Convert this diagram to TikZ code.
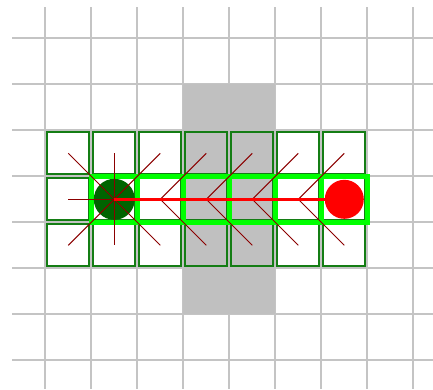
\documentclass[tikz,border=0pt]{standalone}
\usepackage{tikz}
\definecolor{gridgray}{RGB}{196,196,196}
\definecolor{wallgray}{RGB}{192,192,192}
\definecolor{opengreen}{RGB}{20,125,20}
\definecolor{pathgreen}{RGB}{0,255,0}
\definecolor{startgreen}{RGB}{0,100,0}
\definecolor{raymaroon}{RGB}{139,0,0}

\begin{document}
\begin{tikzpicture}[x=46bp,y=-46bp,
  gridline/.style={gridgray, line width=1.8bp},
  opencell/.style={opengreen, line width=2bp},
  pathcell/.style={pathgreen, line width=5bp},
  ray/.style={raymaroon, line width=1bp},
  route/.style={red, line width=3bp}]
\useasboundingbox (-0.985,-0.833) rectangle (8.428,7.624);
\foreach \c in {0,...,8} \draw[gridline] (\c,-0.68) -- (\c,7.624);
\foreach \r in {0,...,7} \draw[gridline] (-0.724,\r) -- (8.428,\r);
\fill[wallgray] (3,1) rectangle (5,6);
\foreach \c in {0,...,6} \foreach \r in {2,3,4} {
  \coordinate (cell-\c-\r) at (\c+0.5,\r+0.5);
  \draw[opencell] (\c+0.045,\r+0.045) rectangle (\c+0.955,\r+0.955);
}
\foreach \c in {1,...,6} \draw[pathcell] (\c,3) rectangle (\c+1,4);
\node (start) [circle, fill=startgreen, inner sep=0pt, minimum size=41bp] at (cell-1-3) {};
\draw[ray] (cell-0-2) -- (cell-2-4);
\draw[ray] (cell-0-4) -- (cell-2-2);
\draw[ray] (cell-1-2) -- (cell-1-4);
\draw[ray] (cell-0-3) -- (cell-1-3);
\foreach \c/\n in {2/3,3/4,4/5,5/6} {
  \draw[ray] (cell-\c-3) -- (cell-\n-2);
  \draw[ray] (cell-\c-3) -- (cell-\n-4);
}
\draw[route] (cell-1-3) -- (cell-6-3);
\node (goal) [circle, fill=red, inner sep=0pt, minimum size=39bp] at (cell-6-3) {};
\end{tikzpicture}
\end{document}
